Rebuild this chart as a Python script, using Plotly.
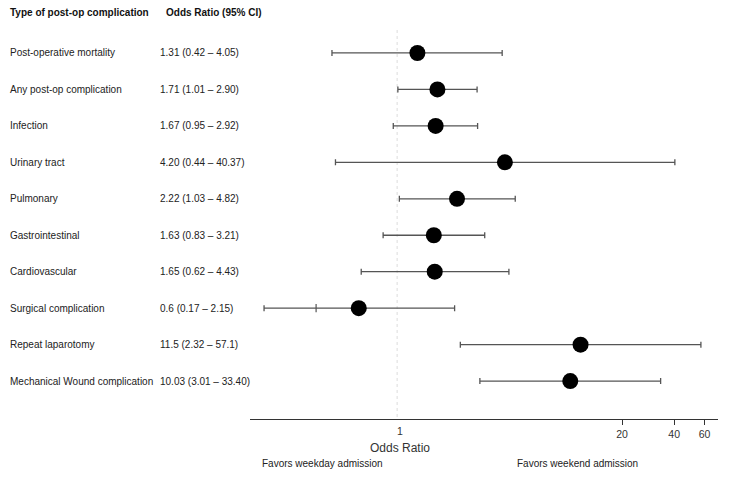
import plotly.graph_objects as go
import numpy as np

categories = ["Post-operative mortality", "Any post-op complication", "Infection",
              "Urinary tract", "Pulmonary", "Gastrointestinal", "Cardiovascular",
              "Surgical complication", "Repeat laparotomy", "Mechanical Wound complication"]
or_text = ["1.31 (0.42 \u2013 4.05)", "1.71 (1.01 \u2013 2.90)", "1.67 (0.95 \u2013 2.92)",
           "4.20 (0.44 \u2013 40.37)", "2.22 (1.03 \u2013 4.82)", "1.63 (0.83 \u2013 3.21)",
           "1.65 (0.62 \u2013 4.43)", "0.6 (0.17 \u2013 2.15)", "11.5 (2.32 \u2013 57.1)",
           "10.03 (3.01 \u2013 33.40)"]
odds = [1.31, 1.71, 1.67, 4.20, 2.22, 1.63, 1.65, 0.6, 11.5, 10.03]
lower = [0.42, 1.01, 0.95, 0.44, 1.03, 0.83, 0.62, 0.17, 2.32, 3.01]
upper = [4.05, 2.90, 2.92, 40.37, 4.82, 3.21, 4.43, 2.15, 57.1, 33.40]
extra_tick_x = [0.34]
extra_tick_row = [7]
tick_vals = [20, 40, 60]      # ticked axis labels
ref_value = 1                 # reference line (labelled, no tick)

rows = list(range(len(categories)))
FONT = "Liberation Sans, Arial, sans-serif"

# the page places the figure 8px from the top-left corner
OFF = 8
W, H = 729 - OFF, 481 - OFF
L, R, T, B = 250 - OFF, 11, 30 - OFF, 481 - 419
pw = W - L - R
ph = H - T - B

def px(x):
    return (x - OFF - L) / pw

def py(y):
    return (H - B - (y - OFF)) / ph

fig = go.Figure()

fig.add_trace(go.Scatter(x=[ref_value, ref_value], y=[-0.63, 10.04], mode="lines",
                         line=dict(color="#dcdcdc", width=1, dash="dot"),
                         hoverinfo="skip", showlegend=False))

fig.add_trace(go.Scatter(
    x=odds, y=rows, mode="markers",
    marker=dict(color="black", size=16),
    error_x=dict(type="data", symmetric=False,
                 array=[u - o for u, o in zip(upper, odds)],
                 arrayminus=[o - l for o, l in zip(odds, lower)],
                 color="#555555", thickness=1.3, width=3),
    showlegend=False))

fig.add_trace(go.Scatter(x=extra_tick_x, y=extra_tick_row, mode="markers",
                         marker=dict(symbol="line-ns-open", size=6, color="#555555",
                                     line=dict(color="#555555", width=1.2)),
                         showlegend=False, hoverinfo="skip"))

ann = []
for i, (c, t) in enumerate(zip(categories, or_text)):
    ann.append(dict(x=px(8), xref="paper", y=i, yref="y", text=c, showarrow=False,
                    xanchor="left", yanchor="middle", font=dict(size=10, color="#222")))
    ann.append(dict(x=px(158), xref="paper", y=i, yref="y", text=t, showarrow=False,
                    xanchor="left", yanchor="middle", font=dict(size=10, color="#222")))

ann.append(dict(x=px(8), xref="paper", y=py(13), yref="paper",
                text="<b>Type of post-op complication</b>", showarrow=False,
                xanchor="left", yanchor="middle", font=dict(size=10, color="#111")))
ann.append(dict(x=px(164), xref="paper", y=py(13), yref="paper",
                text="<b>Odds Ratio (95% CI)</b>", showarrow=False,
                xanchor="left", yanchor="middle", font=dict(size=10, color="#111")))
ann.append(dict(x=np.log10(ref_value), xref="x", xshift=3, y=py(431), yref="paper",
                text=str(ref_value), showarrow=False, xanchor="center", yanchor="middle",
                font=dict(size=10.5, color="#333")))
ann.append(dict(x=px(400), xref="paper", y=py(448), yref="paper", text="Odds Ratio",
                showarrow=False, xanchor="center", yanchor="middle",
                font=dict(size=12, color="#333")))
ann.append(dict(x=px(260), xref="paper", y=py(464), yref="paper",
                text="Favors weekday admission", showarrow=False,
                xanchor="left", yanchor="middle", font=dict(size=10, color="#222")))
ann.append(dict(x=px(515), xref="paper", y=py(463), yref="paper",
                text="Favors weekend admission", showarrow=False,
                xanchor="left", yanchor="middle", font=dict(size=10, color="#222")))

fig.update_layout(
    width=W, height=H,
    margin=dict(l=L, r=R, t=T, b=B),
    plot_bgcolor="white", paper_bgcolor="white",
    font=dict(family=FONT, size=10, color="#222"),
    annotations=ann,
    xaxis=dict(type="log", range=[np.log10(0.141), np.log10(71.7)],
               tickvals=tick_vals, ticktext=[str(v) for v in tick_vals],
               showgrid=False, zeroline=False, showline=True, linecolor="#333",
               linewidth=1, ticks="outside", ticklen=5, tickcolor="#333",
               tickfont=dict(size=10.5, color="#333")),
    yaxis=dict(range=[10.04, -0.63], visible=False, showgrid=False, zeroline=False),
)

fig.write_html("out.html")
